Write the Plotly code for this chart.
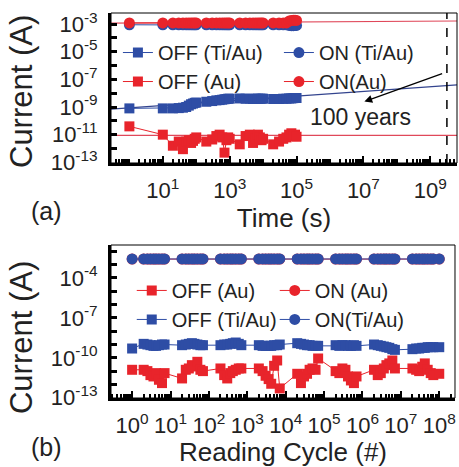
import numpy as np
import plotly.graph_objects as go

FONT = "Arial, Liberation Sans, sans-serif"
RED = "#E8242B"
BLUE = "#2E4DA5"

# ---------------- Panel (a): retention vs time ----------------
time_s = [1, 10, 20, 30, 40, 50, 60, 70, 80, 90,
          100, 200, 300, 400, 500, 600, 700, 800, 900,
          1e3, 2e3, 3e3, 4e3, 5e3, 6e3, 7e3, 8e3, 9e3,
          1e4, 2e4, 3e4, 4e4, 5e4, 6e4, 7e4, 8e4, 9e4, 1e5]
# currents given as log10(I / A)
off_tiau_a_exp = [-9.1, -9.1, -9.1, -9.08, -9.05, -9.0, -8.9, -8.8, -8.75, -8.7,
                  -8.68, -8.62, -8.57, -8.52, -8.5, -8.47, -8.44, -8.42, -8.4,
                  -8.4, -8.38, -8.4, -8.4, -8.42, -8.4, -8.4, -8.4, -8.4,
                  -8.4, -8.42, -8.42, -8.4, -8.4, -8.38, -8.38, -8.36, -8.35, -8.35]
off_au_a_exp = [-10.4, -11.0, -11.8, -11.5, -12.05, -11.5, -11.4, -11.6, -11.45, -11.3,
                -11.2, -11.5, -11.35, -11.1, -11.0, -11.2, -12.3, -11.4, -11.2,
                -11.3, -11.7, -11.1, -11.0, -11.6, -11.3, -11.0, -11.2, -11.4,
                -11.3, -11.7, -11.5, -11.3, -11.2, -11.0, -10.9, -11.1, -11.0, -11.15]
on_tiau_a_exp = [-3.05] * 33 + [-3.1, -3.12, -3.12, -3.1, -3.1]
on_au_a_exp = [-2.92] * 33 + [-2.78, -2.74, -2.72, -2.72, -2.74]
fit_time = [0.28, 6.3e9]
fit_on_au_exp = [-2.93, -2.78]
fit_off_tiau_exp = [-9.15, -7.4]
fit_off_au_exp = [-11.05, -11.05]
hundred_years_s = 3.15e9

# ---------------- Panel (b): read endurance ----------------
cycles = [1,
          2, 2.5, 3, 3.6, 4.2, 5, 6, 7,
          20, 25, 30, 36, 42, 50, 60, 70,
          200, 250, 300, 360, 420, 500, 600, 700,
          2e3, 2.5e3, 3e3, 3.6e3, 4.2e3, 5e3, 6e3, 7e3,
          2e4, 2.5e4, 3e4, 3.6e4, 4.2e4, 5e4, 6e4, 7e4,
          2e5, 2.5e5, 3e5, 3.6e5, 4.2e5, 5e5, 6e5, 7e5,
          2e6, 2.5e6, 3e6, 3.6e6, 4.2e6, 5e6, 6e6, 7e6,
          2e7, 2.5e7, 3e7, 3.6e7, 4.2e7, 5e7, 6e7, 7e7,
          1e8]
off_au_b_exp = [-10.9,
                -10.9, -11.0, -11.3, -11.4, -11.15, -11.65, -11.9, -11.15,
                -11.55, -10.9, -10.8, -10.55, -10.65, -10.3, -10.9, -11.0,
                -10.8, -11.3, -11.55, -11.15, -11.0, -10.9, -10.8, -10.8,
                -10.8, -11.0, -11.35, -11.6, -11.95, -10.6, -10.2, -12.3,
                -11.2, -11.9, -11.4, -11.2, -10.9, -10.8, -10.9, -10.05,
                -11.0, -11.15, -10.8, -10.9, -11.4, -11.7, -11.9, -11.4,
                -10.9, -11.3, -11.15, -10.8, -10.55, -10.42, -10.2, -10.8,
                -10.8, -10.9, -11.0, -10.67, -10.42, -10.9, -11.15, -11.3,
                -11.2]
off_tiau_b_exp = [-9.3,
                  -8.95, -9.0, -9.05, -9.1, -9.1, -9.05, -9.0, -9.0,
                  -9.05, -9.0, -8.95, -8.9, -8.95, -9.0, -9.05, -9.05,
                  -9.05, -9.0, -9.0, -8.95, -8.9, -8.85, -8.95, -9.05,
                  -9.05, -9.1, -9.1, -9.1, -9.1, -9.05, -9.05, -9.0,
                  -8.9, -8.95, -9.0, -9.05, -9.05, -9.1, -9.1, -9.1,
                  -9.05, -9.1, -9.05, -9.05, -9.1, -9.1, -9.05, -9.1,
                  -9.0, -9.05, -9.1, -9.15, -9.2, -9.25, -9.35, -9.4,
                  -9.35, -9.3, -9.3, -9.25, -9.25, -9.2, -9.2, -9.2,
                  -9.2]
on_au_b_exp = [-2.58] * 66
on_tiau_b_exp = [-2.57] * 66

# tick label exponents
xa_label_exp = [1, 3, 5, 7, 9]
ya_label_exp = [-13, -11, -9, -7, -5, -3]
xb_label_exp = [0, 1, 2, 3, 4, 5, 6, 7, 8]
yb_label_exp = [-13, -10, -7, -4]


def cur(e):
    return 10.0 ** np.asarray(e, dtype=float)


def sup(e):
    return "10<sup>%d</sup>" % e


fig = go.Figure()

# fit lines (panel a)
for ye, col in [(fit_on_au_exp, "#E0485A"),
                (fit_off_tiau_exp, "#33448E"),
                (fit_off_au_exp, "#E0485A")]:
    fig.add_trace(go.Scatter(x=fit_time, y=cur(ye), mode="lines",
                             line=dict(color=col, width=1.2), showlegend=False,
                             hoverinfo="skip", xaxis="x", yaxis="y"))


def series(x, ye, name, color, symbol, size, rank, xa, ya, leg):
    return go.Scatter(x=x, y=cur(ye), name=name, mode="lines+markers",
                      line=dict(color=color, width=1),
                      marker=dict(color=color, symbol=symbol, size=size,
                                  line=dict(width=0)),
                      legendrank=rank, xaxis=xa, yaxis=ya, legend=leg)


fig.add_trace(series(time_s, off_tiau_a_exp, "OFF (Ti/Au)", BLUE, "square", 10, 1, "x", "y", "legend"))
fig.add_trace(series(time_s, off_au_a_exp, "OFF (Au)", RED, "square", 10, 3, "x", "y", "legend"))
fig.add_trace(series(time_s, on_tiau_a_exp, "ON (Ti/Au)", BLUE, "circle", 11, 2, "x", "y", "legend"))
fig.add_trace(series(time_s, on_au_a_exp, "ON(Au)", RED, "circle", 11, 4, "x", "y", "legend"))

fig.add_trace(series(cycles, on_au_b_exp, "ON (Au)", RED, "circle", 11, 2, "x2", "y2", "legend2"))
fig.add_trace(series(cycles, off_tiau_b_exp, "OFF (Ti/Au)", BLUE, "square", 10, 3, "x2", "y2", "legend2"))
fig.add_trace(series(cycles, off_au_b_exp, "OFF (Au)", RED, "square", 10, 1, "x2", "y2", "legend2"))
fig.add_trace(series(cycles, on_tiau_b_exp, "ON(Ti/Au)", BLUE, "circle", 11, 4, "x2", "y2", "legend2"))

common_x = dict(type="log", showline=True, linecolor="black", linewidth=3,
                ticks="inside", ticklen=7, tickwidth=2, tickcolor="black",
                showgrid=False, zeroline=False, tickmode="array",
                tickfont=dict(family=FONT, size=22, color="#222"),
                minor=dict(ticks="inside", ticklen=4, tickwidth=1.5,
                           tickcolor="black", dtick="D1", showgrid=False),
                ticklabelstandoff=6)
common_y = dict(type="log", showline=True, linecolor="black", linewidth=3,
                ticks="inside", ticklen=6, tickwidth=3, tickcolor="black",
                showgrid=False, zeroline=False, tickmode="array",
                tickfont=dict(family=FONT, size=22, color="#222"),
                minor=dict(ticks="inside", ticklen=6, tickwidth=3,
                           tickcolor="black", dtick=1, showgrid=False),
                ticklabelstandoff=6)

fig.update_layout(
    width=459, height=467,
    margin=dict(l=111, r=2, t=13, b=69),
    paper_bgcolor="white", plot_bgcolor="white",
    font=dict(family=FONT, color="#222"),
    xaxis=dict(common_x, domain=[0, 1], anchor="y", range=[-0.55, 9.8],
               tickvals=[10.0 ** k for k in xa_label_exp],
               ticktext=[sup(k) for k in xa_label_exp],
               title=dict(text="Time (s)", font=dict(size=26, family=FONT), standoff=2)),
    yaxis=dict(common_y, domain=[0.6104, 1], anchor="x", range=[-13.05, -2.2],
               tickvals=[10.0 ** k for k in ya_label_exp],
               ticktext=[sup(k) for k in ya_label_exp]),
    xaxis2=dict(common_x, domain=[0, 0.9942], anchor="y2", range=[-0.55, 8.41],
                tickvals=[10.0 ** k for k in xb_label_exp],
                ticktext=[sup(k) for k in xb_label_exp],
                title=dict(text="Reading Cycle (#)", font=dict(size=26, family=FONT), standoff=2)),
    yaxis2=dict(common_y, domain=[0, 0.3974], anchor="x2", range=[-13.02, -1.52],
                tickvals=[10.0 ** k for k in yb_label_exp],
                ticktext=[sup(k) for k in yb_label_exp]),
    legend=dict(x=0.02, y=0.948, xanchor="left", yanchor="top", orientation="h",
                entrywidth=116, entrywidthmode="pixels", bgcolor="rgba(0,0,0,0)",
                font=dict(family=FONT, size=20, color="#222"), tracegroupgap=0),
    legend2=dict(x=0.06, y=0.33, xanchor="left", yanchor="top", orientation="h",
                 entrywidth=98, entrywidthmode="pixels", bgcolor="rgba(0,0,0,0)",
                 font=dict(family=FONT, size=20, color="#222"), tracegroupgap=0),
    showlegend=True,
)

# y-axis titles (placed to match the reference's offset)
fig.add_annotation(x=-0.257, y=0.795, xref="paper", yref="paper", text="Current (A)",
                   textangle=-90, showarrow=False, xanchor="center", yanchor="middle",
                   font=dict(family=FONT, size=31, color="#222"))
fig.add_annotation(x=-0.257, y=0.156, xref="paper", yref="paper", text="Current (A)",
                   textangle=-90, showarrow=False, xanchor="center", yanchor="middle",
                   font=dict(family=FONT, size=31, color="#222"))

# thin frame on top/right
for xr, yr in [("x domain", "y domain"), ("x2 domain", "y2 domain")]:
    fig.add_shape(type="rect", xref=xr, yref=yr, x0=0, x1=1, y0=0, y1=1,
                  line=dict(color="black", width=1), layer="above")

# 100-year dashed marker
fig.add_shape(type="line", xref="x", yref="y domain", x0=hundred_years_s, x1=hundred_years_s,
              y0=0, y1=1, line=dict(color="black", width=1.5, dash="dash"))

fig.add_annotation(x=7.03, y=-8.61, ax=9.4, ay=-6.55, xref="x", yref="y",
                   axref="x", ayref="y", text="", showarrow=True, arrowhead=2,
                   arrowsize=1.2, arrowwidth=1.3, arrowcolor="black")
fig.add_annotation(x=6.9, y=-9.69, xref="x", yref="y", text="100 years", showarrow=False,
                   font=dict(family=FONT, size=23, color="#222"))
fig.add_annotation(x=-0.185, y=0.486, xref="paper", yref="paper", text="(a)", showarrow=False,
                   xanchor="center", yanchor="middle",
                   font=dict(family=FONT, size=25, color="#222"))
fig.add_annotation(x=-0.185, y=-0.127, xref="paper", yref="paper", text="(b)", showarrow=False,
                   xanchor="center", yanchor="middle",
                   font=dict(family=FONT, size=25, color="#222"))

fig.write_html("out.html")
